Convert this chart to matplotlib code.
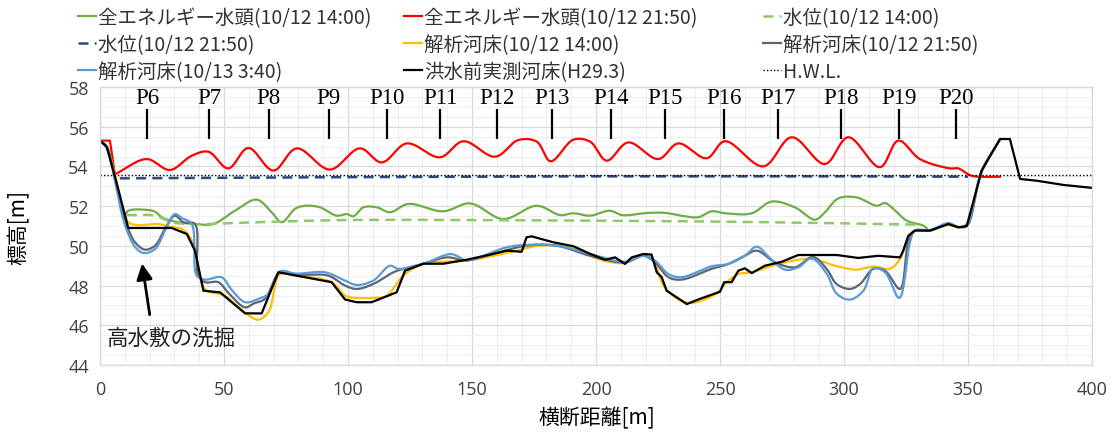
import numpy as np
import matplotlib
matplotlib.use("Agg")
import matplotlib.pyplot as plt
from matplotlib.ticker import MultipleLocator

plt.rcParams['font.family'] = ['Noto Sans CJK JP', 'DejaVu Sans']

# ---------------- data ----------------
egl_1400_x = [10.1, 11.4, 18.1, 22.2, 24.9, 30.2, 38.3, 45.7, 54.4, 63.2, 69.2, 73.3, 78.6, 82.7, 88.7, 95.4,
              99.5, 102.2, 106.2, 111.6, 116.9, 124.3, 138.4, 149.2, 162.6, 176.1, 185.5, 190.9, 197.6, 205.6,
              210.4, 221.1, 227.8, 235.9, 241.3, 246.6, 252.0, 262.8, 270.8, 280.2, 288.3, 292.3, 297.7, 305.1,
              313.2, 316.5, 319.9, 325.3, 332.0, 333.3]
egl_1400_y = [51.55, 51.77, 51.82, 51.72, 51.44, 51.22, 51.10, 51.10, 51.77, 52.33, 51.69, 51.19, 51.86, 52.02, 51.94, 51.52,
              51.60, 51.49, 51.94, 51.94, 51.69, 52.11, 51.74, 52.14, 51.35, 52.02, 51.55, 51.64, 51.52, 51.77,
              51.55, 51.66, 51.66, 51.49, 51.44, 51.74, 51.64, 51.64, 52.23, 51.94, 51.32, 51.69, 52.39, 52.44,
              52.02, 52.16, 51.86, 51.27, 51.02, 50.89]

egl_2150_x = [0.0, 4.0, 6.0, 18.8, 28.2, 37.0, 43.7, 51.7, 59.8, 69.9, 79.3, 92.7, 104.8, 113.6, 123.7, 137.1,
              146.5, 159.3, 168.7, 176.1, 181.7, 190.9, 197.6, 204.3, 213.0, 225.1, 233.2, 244.6, 252.0, 267.5,
              278.9, 292.3, 301.7, 314.5, 321.9, 330.6, 342.7, 346.1, 351.5, 362.9]
egl_2150_y = [55.30, 55.30, 53.60, 54.37, 53.82, 54.54, 54.74, 53.90, 54.93, 53.79, 54.91, 53.84, 54.91, 54.20, 55.16, 54.46,
              55.27, 54.49, 55.33, 55.25, 54.26, 55.35, 55.25, 54.29, 55.21, 54.37, 55.16, 54.41, 55.27, 54.00,
              55.47, 54.12, 55.47, 53.96, 55.30, 54.37, 53.90, 53.90, 53.53, 53.48]

wl_1400_x = [10.8, 22.2, 28.9, 38.3, 63.2, 98.8, 150.0, 197.6, 250.0, 296.4, 329.3]
wl_1400_y = [51.55, 51.52, 51.19, 51.10, 51.19, 51.30, 51.30, 51.27, 51.22, 51.14, 51.07]

wl_2150_x = [8.0, 100.0, 200.0, 300.0, 350.0]
wl_2150_y = [53.40, 53.46, 53.50, 53.50, 53.48]

bed_1400_x = [0.0, 2.7, 6.0, 11.4, 15.0, 23.5, 27.5, 33.0, 36.0, 38.3, 42.3, 50.4, 55.0, 61.2, 63.8, 67.9,
              72.6, 78.6, 93.4, 98.8, 100.8, 110.2, 115.6, 122.3, 130.4, 147.8, 158.6, 168.0, 177.4, 190.9,
              197.6, 203.6, 211.7, 219.1, 223.0, 226.5, 229.2, 237.2, 249.3, 252.0, 257.4, 262.8, 273.5, 286.9,
              296.4, 305.0, 311.8, 318.5, 322.6, 324.6, 326.6, 328.6, 334.7, 342.1, 346.1, 349.5, 355.5, 362.9]
bed_1400_y = [55.30, 55.00, 53.60, 51.20, 51.05, 51.10, 50.98, 50.85, 50.50, 49.80, 47.83, 47.49, 47.00, 46.40, 46.28, 46.65,
              48.58, 48.50, 48.17, 47.49, 47.41, 47.38, 47.49, 48.50, 49.09, 49.25, 49.50, 49.76, 50.01, 49.88,
              49.50, 49.24, 49.14, 49.50, 49.34, 48.17, 47.69, 47.12, 47.66, 48.08, 48.58, 48.67, 49.09, 49.34,
              49.00, 48.80, 48.96, 48.84, 49.34, 50.00, 50.60, 50.77, 50.77, 51.05, 50.95, 51.05, 53.70, 55.35]

bed_2150_x = [0.0, 2.7, 6.0, 9.0, 11.4, 14.1, 18.1, 22.2, 26.2, 30.2, 33.6, 38.3, 39.6, 42.3, 47.7, 52.0,
              58.5, 62.0, 66.5, 72.6, 80.0, 92.0, 98.8, 103.5, 110.2, 118.3, 122.3, 130.4, 139.8, 147.8,
              158.6, 172.0, 184.1, 197.6, 211.7, 219.1, 223.8, 229.2, 234.5, 246.6, 253.4, 260.0, 264.8, 272.2,
              280.2, 287.5, 293.0, 297.0, 302.4, 306.5, 311.8, 316.5, 322.6, 325.9, 328.6, 334.7, 342.1, 346.1,
              349.5, 355.5, 362.9]
bed_2150_y = [55.30, 55.00, 53.40, 51.80, 50.85, 50.18, 49.81, 50.01, 50.85, 51.52, 51.19, 51.10, 48.50, 48.17, 48.17, 47.60,
              46.90, 47.10, 47.33, 48.67, 48.55, 48.50, 48.00, 47.83, 48.08, 48.67, 48.84, 49.10, 49.42, 49.27,
              49.60, 50.01, 50.01, 49.50, 49.17, 49.50, 49.17, 48.42, 48.30, 48.84, 49.09, 49.50, 49.76, 49.17,
              48.92, 49.44, 48.84, 48.08, 47.83, 48.08, 48.84, 48.75, 47.83, 50.18, 50.77, 50.77, 51.10, 50.95,
              51.00, 53.75, 55.35]

bed_0340_x = [0.0, 2.7, 6.0, 9.0, 11.4, 14.1, 17.5, 22.2, 26.2, 30.2, 33.0, 37.0, 39.0, 42.3, 49.0, 53.0,
              58.5, 63.8, 67.9, 72.6, 78.6, 90.7, 98.8, 103.5, 110.2, 116.9, 120.3, 130.4, 141.1, 143.8,
              147.8, 164.0, 172.0, 184.1, 197.6, 211.7, 219.1, 223.8, 229.2, 234.5, 246.6, 253.4, 260.0, 264.8,
              270.0, 276.2, 281.6, 286.9, 293.0, 297.0, 302.4, 307.8, 311.8, 316.5, 322.3, 326.6, 328.6, 334.7,
              342.1, 346.1, 349.5, 355.5, 362.9]
bed_0340_y = [55.30, 54.90, 53.30, 51.50, 50.60, 49.95, 49.64, 49.84, 50.77, 51.60, 51.40, 51.10, 48.50, 48.30, 48.42, 47.80,
              47.16, 47.33, 47.58, 48.72, 48.60, 48.67, 48.25, 48.03, 48.25, 49.00, 48.84, 49.10, 49.59, 49.50,
              49.27, 49.93, 50.05, 50.01, 49.59, 49.20, 49.50, 49.25, 48.58, 48.42, 48.97, 49.09, 49.50, 49.96,
              49.40, 48.80, 48.92, 49.37, 48.60, 47.60, 47.29, 47.74, 48.87, 48.67, 47.38, 50.18, 50.77, 50.80,
              51.15, 50.95, 51.10, 53.80, 55.35]

bed_h29_x = [0.0, 2.7, 6.0, 11.4, 20.0, 28.9, 35.0, 38.3, 41.7, 48.4, 58.5, 65.2, 71.9, 93.4, 98.8, 103.5,
             109.5, 119.6, 123.0, 130.4, 138.4, 147.8, 157.3, 164.0, 170.0, 172.0, 174.0, 182.8, 190.9, 197.6,
             203.6, 207.7, 211.7, 214.4, 219.1, 222.4, 224.5, 226.5, 228.5, 236.6, 241.9, 250.0, 251.7, 254.7,
             257.4, 260.0, 262.8, 268.1, 274.9, 281.6, 297.0, 305.8, 313.8, 322.6, 323.9, 325.9, 328.6, 334.7,
             342.1, 346.1, 349.5, 355.5, 362.9, 366.9, 371.0, 377.7, 388.4, 400.0]
bed_h29_y = [55.30, 55.00, 53.50, 50.90, 50.90, 50.90, 50.60, 49.76, 47.74, 47.66, 46.60, 46.60, 48.67, 48.17, 47.30, 47.16,
             47.16, 47.66, 48.75, 49.10, 49.10, 49.30, 49.56, 49.76, 49.70, 50.43, 50.48, 50.18, 49.98, 49.60,
             49.30, 49.42, 49.09, 49.42, 49.59, 49.56, 48.67, 48.42, 47.74, 47.07, 47.33, 47.69, 48.17, 48.17,
             48.75, 48.87, 48.63, 49.00, 49.20, 49.54, 49.54, 49.39, 49.50, 49.42, 49.76, 50.50, 50.77, 50.77,
             51.10, 50.93, 51.00, 53.79, 55.38, 55.38, 53.37, 53.28, 53.07, 52.92]

hwl_x = [0.0, 400.0]
hwl_y = [53.55, 53.55]

pier_labels = ['P6', 'P7', 'P8', 'P9', 'P10', 'P11', 'P12', 'P13', 'P14', 'P15', 'P16', 'P17', 'P18', 'P19', 'P20']
pier_x = [19.1, 44.1, 68.1, 92.3, 115.9, 137.1, 160.0, 182.4, 206.0, 227.8, 251.6, 273.5, 298.7, 322.2, 345.0]

legend_labels = ['全エネルギー水頭(10/12 14:00)', '全エネルギー水頭(10/12 21:50)', '水位(10/12 14:00)',
                 '水位(10/12 21:50)', '解析河床(10/12 14:00)', '解析河床(10/12 21:50)',
                 '解析河床(10/13 3:40)', '洪水前実測河床(H29.3)', 'H.W.L.']


# ------------- Excel-like smoothed line rendering (centripetal Catmull-Rom) -------------
def smooth(xs, ys, n=16, sx=2.48, sy=19.86, linear_head=0):
    xs = np.asarray(xs, float)
    ys = np.asarray(ys, float)
    if linear_head > 0:
        hx, hy = xs[:linear_head + 1], ys[:linear_head + 1]
        tx, ty = smooth(xs[linear_head:], ys[linear_head:], n, sx, sy)
        return np.concatenate([hx[:-1], tx]), np.concatenate([hy[:-1], ty])
    P = np.column_stack([xs * sx, ys * sy])
    if len(P) < 3:
        return xs, ys
    P = np.vstack([2 * P[0] - P[1], P, 2 * P[-1] - P[-2]])
    out = [P[1]]
    for i in range(1, len(P) - 2):
        p0, p1, p2, p3 = P[i - 1], P[i], P[i + 1], P[i + 2]

        def tj(ti, a, b):
            return ti + max(np.linalg.norm(b - a), 1e-6) ** 0.5
        t0 = 0.0
        t1 = tj(t0, p0, p1)
        t2 = tj(t1, p1, p2)
        t3 = tj(t2, p2, p3)
        t = np.linspace(t1, t2, n)[1:, None]
        A1 = (t1 - t) / (t1 - t0) * p0 + (t - t0) / (t1 - t0) * p1
        A2 = (t2 - t) / (t2 - t1) * p1 + (t - t1) / (t2 - t1) * p2
        A3 = (t3 - t) / (t3 - t2) * p2 + (t - t2) / (t3 - t2) * p3
        B1 = (t2 - t) / (t2 - t0) * A1 + (t - t0) / (t2 - t0) * A2
        B2 = (t3 - t) / (t3 - t1) * A2 + (t - t1) / (t3 - t1) * A3
        C = (t2 - t) / (t2 - t1) * B1 + (t - t1) / (t2 - t1) * B2
        out.extend(C)
    out = np.array(out)
    return out[:, 0] / sx, out[:, 1] / sy


# ---------------- figure ----------------
fig = plt.figure(figsize=(11.13, 4.35), dpi=100)
ax = fig.add_axes([100 / 1113, 1 - 366 / 435, 992 / 1113, 278 / 435])

c_green = '#70ad47'
c_red = '#ff0000'
c_lgreen = '#8cc968'
c_navy = '#2f4a7d'
c_yellow = '#ffc000'
c_gray = '#5a6576'
c_blue = '#5b9bd5'
c_black = '#000000'

lw = 1.6
h = []
h += ax.plot(*smooth(egl_1400_x, egl_1400_y), color=c_green, lw=lw)
h += ax.plot(*smooth(egl_2150_x, egl_2150_y, linear_head=2), color=c_red, lw=lw)
h += ax.plot(*smooth(wl_1400_x, wl_1400_y), color=c_lgreen, lw=1.8, ls=(0, (4, 2.5)))
h += ax.plot(wl_2150_x, wl_2150_y, color=c_navy, lw=1.8, ls=(0, (4, 2.5)))
h += ax.plot(*smooth(bed_1400_x, bed_1400_y), color=c_yellow, lw=lw)
h += ax.plot(*smooth(bed_2150_x, bed_2150_y), color=c_gray, lw=lw)
h += ax.plot(*smooth(bed_0340_x, bed_0340_y), color=c_blue, lw=lw)
h += ax.plot(bed_h29_x, bed_h29_y, color=c_black, lw=lw)
h += ax.plot(hwl_x, hwl_y, color=c_black, lw=1.0, ls=(0, (1, 1.5)))

ax.set_xlim(0, 400)
ax.set_ylim(44, 58)
ax.xaxis.set_major_locator(MultipleLocator(50))
ax.xaxis.set_minor_locator(MultipleLocator(10))
ax.yaxis.set_major_locator(MultipleLocator(2))
ax.yaxis.set_minor_locator(MultipleLocator(0.5))
ax.grid(which='major', color='#d9d9d9', lw=0.9)
ax.grid(which='minor', color='#efefef', lw=0.8)
ax.set_axisbelow(True)
for s in ax.spines.values():
    s.set_color('#d9d9d9')
    s.set_linewidth(1.0)
ax.tick_params(which='both', length=0)
ax.tick_params(axis='x', pad=11)
ax.tick_params(axis='y', pad=8)
for lab in ax.get_xticklabels() + ax.get_yticklabels():
    lab.set_fontfamily(['Open Sans', 'DejaVu Sans'])
    lab.set_fontsize(13)
    lab.set_color('#404040')

ax.set_xlabel('横断距離[m]', fontsize=15)
ax.set_ylabel('標高[m]', fontsize=15)
ax.xaxis.set_label_coords(0.501, -0.148)
ax.yaxis.set_label_coords(-0.071, 0.5)

# pier markers
for lab, px in zip(pier_labels, pier_x):
    ax.text(px, 57.47, lab, ha='center', va='center', fontsize=16.5,
            family=['Liberation Serif', 'DejaVu Serif'], color='black')
    ax.plot([px, px], [55.38, 56.89], color='black', lw=1.6, solid_capstyle='butt')

# annotation
ax.annotate('', xy=(16.8, 49.25), xytext=(20.2, 46.4),
            arrowprops=dict(arrowstyle='-|>', lw=2, color='black', mutation_scale=24))
ax.text(2.8, 45.35, '高水敷の洗掘', ha='left', va='center', fontsize=15.5, color='#222222')

# legend: three columns, row-major order as in the reference
col_x = [78, 404, 763]
for c in range(3):
    idx = [c, c + 3, c + 6]
    fig.legend([h[i] for i in idx], [legend_labels[i] for i in idx],
               loc='upper left', bbox_to_anchor=(col_x[c] / 1113, 1 - 8 / 435),
               frameon=False, fontsize=14, handlelength=0.9, handletextpad=0.15,
               labelspacing=0.3, borderpad=0, borderaxespad=0, labelcolor='#333333')

fig.savefig('out.png', dpi=100)
